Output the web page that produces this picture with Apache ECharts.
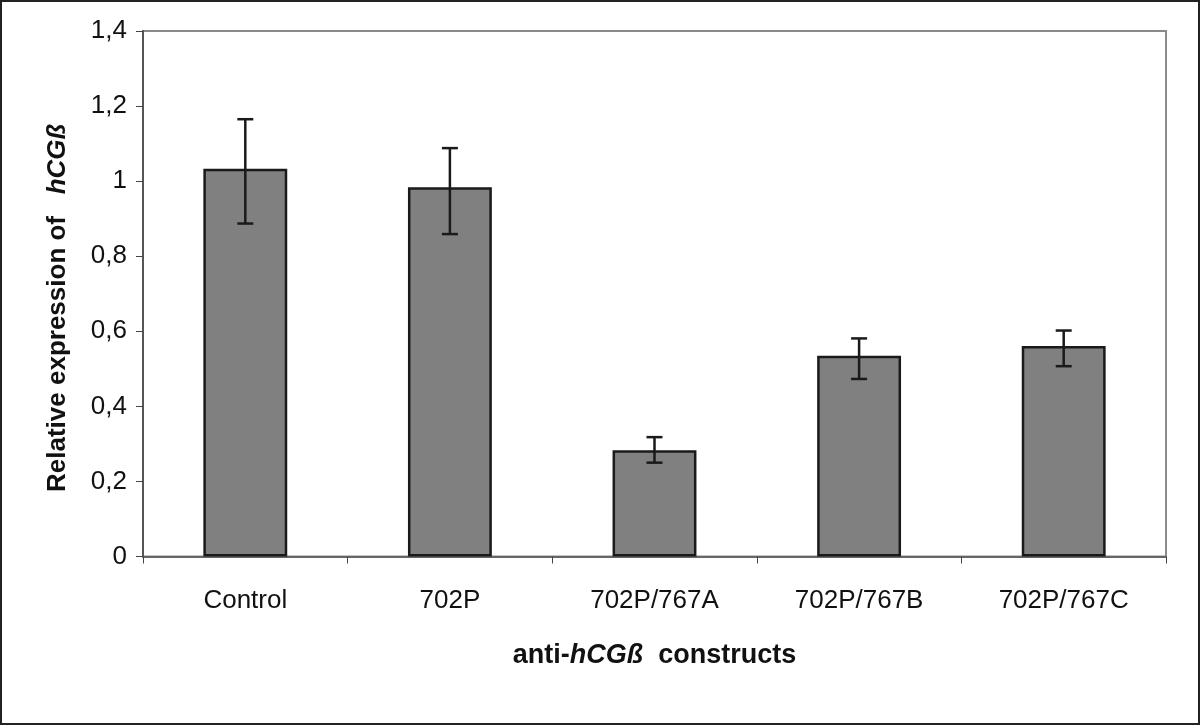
<!DOCTYPE html>
<html><head><meta charset="utf-8">
<script src="https://cdn.jsdelivr.net/npm/echarts@6/dist/echarts.min.js"></script>
<style>html,body{margin:0;padding:0;background:#fff}#c{width:1200px;height:725px}</style>
</head><body><div id="c"></div>
<script>
const categories = ['Control', '702P', '702P/767A', '702P/767B', '702P/767C'];
const values = [1.033, 0.984, 0.283, 0.535, 0.561];
const errLow = [0.887, 0.859, 0.250, 0.473, 0.507];
const errHigh = [1.165, 1.088, 0.318, 0.581, 0.602];
const yTicks = [0, 0.2, 0.4, 0.6, 0.8, 1, 1.2, 1.4];

const chart = echarts.init(document.getElementById('c'));
const font = 'Liberation Sans, Arial, sans-serif';
chart.setOption({
  animation: false,
  backgroundColor: '#fff',
  graphic: [{type: 'rect', shape: {x: 1, y: 1, width: 1198, height: 723}, style: {fill: 'none', stroke: '#222', lineWidth: 2}, z: -1}],
  grid: {left: 143, right: 34, top: 31, bottom: 168.5, show: true, borderColor: '#8a8a8a', borderWidth: 2, backgroundColor: '#fff'},
  xAxis: {
    type: 'category', data: categories,
    axisLine: {lineStyle: {color: '#666', width: 2}},
    axisTick: {show: true, length: 7, lineStyle: {color: '#444', width: 1}},
    axisLabel: {color: '#111', fontSize: 26, fontFamily: font, margin: 31},
    name: '{b|anti-}{bi|hCGß}{b|  constructs}', nameLocation: 'middle', nameGap: 86,
    nameTextStyle: {rich: {
      b: {fontSize: 27, fontWeight: 'bold', fontFamily: font, color: '#111'},
      bi: {fontSize: 27, fontWeight: 'bold', fontStyle: 'italic', fontFamily: font, color: '#111'}
    }}
  },
  yAxis: {
    type: 'value', min: 0, max: 1.4, interval: 0.2,
    axisLine: {show: true, lineStyle: {color: '#555', width: 2}},
    axisTick: {show: true, length: 7, lineStyle: {color: '#444', width: 1}},
    splitLine: {show: false},
    axisLabel: {color: '#111', fontSize: 26, fontFamily: font, margin: 16,
      formatter: v => { const t = yTicks.find(x => Math.abs(x - v) < 1e-9); return (t !== undefined ? t : v).toString().replace('.', ','); }},
    name: '{b|Relative expression of   }{bi|hCGß}', nameLocation: 'middle', nameGap: 72,
    nameTextStyle: {rich: {
      b: {fontSize: 26, fontWeight: 'bold', fontFamily: font, color: '#111'},
      bi: {fontSize: 26, fontWeight: 'bold', fontStyle: 'italic', fontFamily: font, color: '#111', padding: [0, 28, 0, 0]}
    }}
  },
  series: [{
    type: 'bar', data: values, barWidth: '41%',
    itemStyle: {color: '#808080', borderColor: '#1a1a1a', borderWidth: 2.5}
  }, {
    type: 'custom',
    data: categories.map((c, i) => [i, errLow[i], errHigh[i]]),
    renderItem: (params, api) => {
      const lo = api.coord([api.value(0), api.value(1)]);
      const hi = api.coord([api.value(0), api.value(2)]);
      const hw = 8;
      const st = {stroke: '#1a1a1a', lineWidth: 2.5};
      return {type: 'group', children: [
        {type: 'line', shape: {x1: hi[0], y1: hi[1], x2: lo[0], y2: lo[1]}, style: st},
        {type: 'line', shape: {x1: hi[0] - hw, y1: hi[1], x2: hi[0] + hw, y2: hi[1]}, style: st},
        {type: 'line', shape: {x1: lo[0] - hw, y1: lo[1], x2: lo[0] + hw, y2: lo[1]}, style: st}
      ]};
    },
    z: 5
  }]
});
</script></body></html>
